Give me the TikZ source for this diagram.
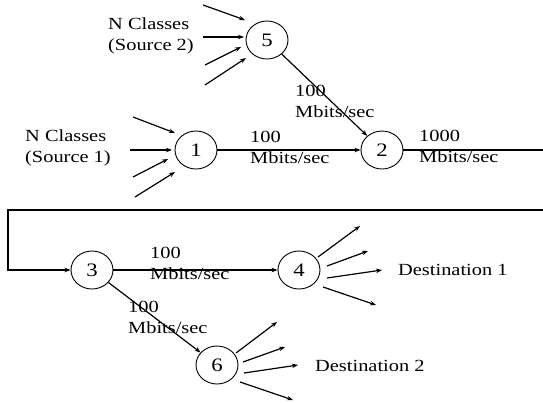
\documentclass[tikz,border=0pt]{standalone}
\usepackage{fontspec}
\setmainfont{Liberation Serif}[FakeStretch=1.2]
\usetikzlibrary{arrows.meta,shapes.geometric}
\begin{document}
\begin{tikzpicture}[x=1pt,y=-1pt,
  lbl/.style={font=\fontsize{17}{21}\selectfont, inner sep=0pt, anchor=north west, align=left},
  dest/.style={font=\fontsize{17}{21}\selectfont, inner sep=0pt, anchor=base west},
  nd/.style={draw, ellipse, line width=0.9pt, minimum width=42pt, minimum height=38pt, inner sep=0pt, font=\fontsize{19}{19}\selectfont},
  ar/.style={line width=1.2pt, -{Stealth[length=6pt,width=4.5pt]}},
  ln/.style={line width=1.2pt}]
\useasboundingbox (0,0) rectangle (543,402);

% nodes
\node[nd] (n5) at (267,40) {5};
\node[nd] (n1) at (196,150) {1};
\node[nd] (n2) at (382,150) {2};
\node[nd] (n3) at (92,270) {3};
\node[nd] (n4) at (299,270) {4};
\node[nd] (n6) at (217,365) {6};

% texts
\node[lbl] (src2) at (108,17.4) {N Classes\\(Source 2)};
\node[lbl] (src1) at (25,129.4) {N Classes\\(Source 1)};
\node[lbl] (l52) at (295,85.4) {100\\Mbits/sec};
\node[lbl] (l12) at (250,131.4) {100\\Mbits/sec};
\node[lbl] (l2o) at (419,130.4) {1000\\Mbits/sec};
\node[lbl] (l34) at (150,247.4) {100\\Mbits/sec};
\node[lbl] (l36) at (128,301.4) {100\\Mbits/sec};
\node[dest] (d1) at (398,275) {Destination 1};
\node[dest] (d2) at (315,371) {Destination 2};

% main links
\draw[ar] (n5) -- (n2);
\draw[ar] (n1) -- (n2);
\coordinate (r1) at (545,150);
\coordinate (r2) at (545,210);
\coordinate (lc) at (8,210);
\draw[ln] (n2) -- (r1);
\draw[ar] (r2) -- (lc) |- (n3);
\draw[ar] (n3) -- (n4);
\draw[ar] (n3) -- (n6);

% inputs to 5
\coordinate (a1s) at (203,5);   \coordinate (a1e) at (245,20);
\coordinate (a2s) at (203,37);  \coordinate (a2e) at (244,37);
\coordinate (a3s) at (205,65);  \coordinate (a3e) at (241,47);
\coordinate (a4s) at (205,85);  \coordinate (a4e) at (246,58);
\draw[ar] (a1s) -- (a1e);
\draw[ar] (a2s) -- (a2e);
\draw[ar] (a3s) -- (a3e);
\draw[ar] (a4s) -- (a4e);

% inputs to 1
\coordinate (b1s) at (133,117); \coordinate (b1e) at (175,133);
\coordinate (b2s) at (130,150); \coordinate (b2e) at (172,150);
\coordinate (b3s) at (133,177); \coordinate (b3e) at (168,159);
\coordinate (b4s) at (135,197); \coordinate (b4e) at (175,172);
\draw[ar] (b1s) -- (b1e);
\draw[ar] (b2s) -- (b2e);
\draw[ar] (b3s) -- (b3e);
\draw[ar] (b4s) -- (b4e);

% outputs from 4
\coordinate (d1s) at (318,257); \coordinate (d1e) at (360,226);
\coordinate (d2s) at (327,266); \coordinate (d2e) at (368,251);
\coordinate (d3s) at (327,278); \coordinate (d3e) at (382,270);
\coordinate (d4s) at (323,287); \coordinate (d4e) at (376,305);
\draw[ar] (d1s) -- (d1e);
\draw[ar] (d2s) -- (d2e);
\draw[ar] (d3s) -- (d3e);
\draw[ar] (d4s) -- (d4e);

% outputs from 6
\coordinate (c1s) at (236,353); \coordinate (c1e) at (277,322);
\coordinate (c2s) at (243,362); \coordinate (c2e) at (285,347);
\coordinate (c3s) at (244,373); \coordinate (c3e) at (298,365);
\coordinate (c4s) at (240,382); \coordinate (c4e) at (293,400);
\draw[ar] (c1s) -- (c1e);
\draw[ar] (c2s) -- (c2e);
\draw[ar] (c3s) -- (c3e);
\draw[ar] (c4s) -- (c4e);
\end{tikzpicture}
\end{document}
